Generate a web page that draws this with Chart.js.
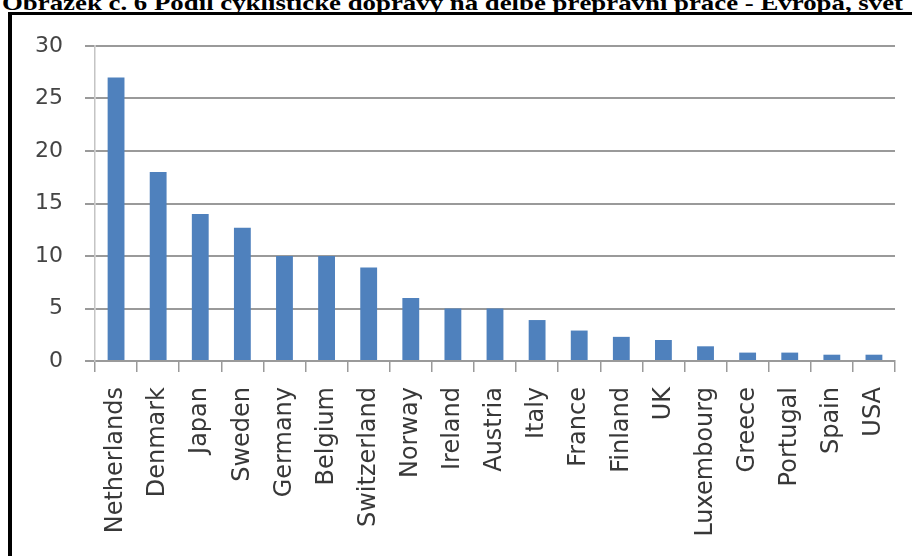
<!DOCTYPE html>
<html>
<head>
<meta charset="utf-8">
<script src="https://cdn.jsdelivr.net/npm/chart.js@4"></script>
<style>
    body { margin: 0; background: #ffffff; }
    #page { position: relative; width: 912px; height: 556px; overflow: hidden; background: #ffffff; }
    #title { position: absolute; left: 2px; top: -8px; font: bold 22px 'Liberation Serif', 'Times New Roman', serif; line-height: 22px; white-space: nowrap; color: #000; transform-origin: 0 0; }
    #frame { position: absolute; left: 8px; top: 12px; width: 960px; height: 600px; border-left: 4px solid #000; border-top: 3px solid #000; }
    #chart { position: absolute; left: 0; top: 0; }
</style>
</head>
<body>
<div id="page">
    <div id="title">Obrázek č. 6 Podíl cyklistické dopravy na dělbě přepravní práce - Evropa, svět</div>
    <div id="frame"></div>
    <canvas id="chart" width="912" height="556"></canvas>
</div>
<script>
// Data
var countries = ['Netherlands', 'Denmark', 'Japan', 'Sweden', 'Germany', 'Belgium', 'Switzerland', 'Norway', 'Ireland', 'Austria',
    'Italy', 'France', 'Finland', 'UK', 'Luxembourg', 'Greece', 'Portugal', 'Spain', 'USA'];
var bikeShare = [27, 18, 14, 12.7, 10, 10, 8.9, 6, 5, 5, 3.9, 2.9, 2.3, 2, 1.4, 0.8, 0.8, 0.6, 0.6];
var yTicks = [0, 5, 10, 15, 20, 25, 30];

window.addEventListener('load', function () {

    // Title - stretch to the width of the original
    var title = document.getElementById('title');
    var w = title.getBoundingClientRect().width;
    title.style.transform = 'scaleX(' + (901 / w) + ')';

    // Chart
    var ctx = document.getElementById('chart').getContext('2d');
    var chart = new Chart(ctx, {
        type: 'bar',
        data: {
            labels: countries,
            datasets: [{
                data: bikeShare,
                backgroundColor: '#4f81bd',
                barPercentage: 0.4,
                categoryPercentage: 1.0
            }]
        },
        options: {
            responsive: false,
            animation: false,
            layout: { padding: { top: 46, right: 17, left: 0, bottom: 0 } },
            plugins: {
                legend: { display: false },
                tooltip: { enabled: false }
            },
            scales: {
                x: {
                    grid: { drawOnChartArea: false, drawTicks: true, tickLength: 11, color: '#9a9a9a', lineWidth: 1.5 },
                    border: { color: '#9a9a9a', width: 2 },
                    ticks: {
                        autoSkip: false,
                        minRotation: 90,
                        maxRotation: 90,
                        padding: 15,
                        color: '#383838',
                        font: { family: 'DejaVu Sans', size: 24 }
                    },
                    afterFit: function (scale) {
                        scale.height = 195;
                        // no extra room for the last rotated label
                        scale.paddingLeft = 0;
                        scale.paddingRight = 0;
                    }
                },
                y: {
                    min: 0,
                    max: 30,
                    afterBuildTicks: function (scale) {
                        scale.ticks = yTicks.map(function (v) { return { value: v }; });
                    },
                    grid: { color: '#9a9a9a', lineWidth: 2, tickLength: 10 },
                    border: { color: '#c4c4c4', width: 1.5 },
                    ticks: {
                        padding: 22,
                        color: '#444444',
                        font: { family: 'DejaVu Sans', size: 22 }
                    },
                    afterFit: function (scale) { scale.width = 95; }
                }
            }
        }
    });
});
</script>
</body>
</html>
